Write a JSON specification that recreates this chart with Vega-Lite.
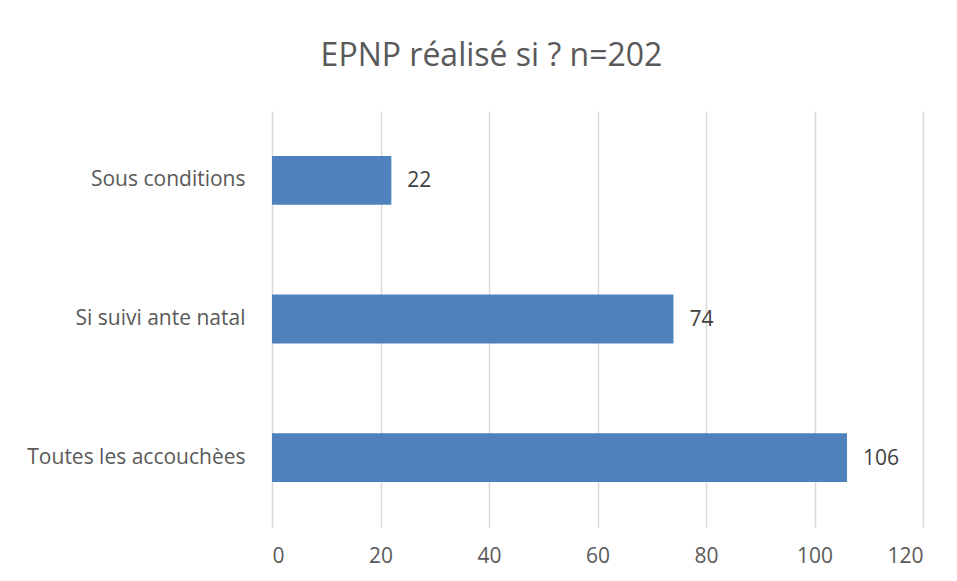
{
  "$schema": "https://vega.github.io/schema/vega-lite/v6.json",
  "width": 651,
  "height": 416,
  "autosize": {"type": "none"},
  "padding": {"left": 272, "top": 111, "right": 34, "bottom": 54},
  "background": "white",
  "title": {
    "text": "EPNP réalisé si ? n=202",
    "font": "Open Sans",
    "fontSize": 32,
    "fontWeight": "normal",
    "color": "#595959",
    "anchor": "middle",
    "frame": "group",
    "dx": -106,
    "offset": 38
  },
  "data": {
    "values": [
      {"cat": "Sous conditions", "n": 22},
      {"cat": "Si suivi ante natal", "n": 74},
      {"cat": "Toutes les accouchèes", "n": 106}
    ]
  },
  "encoding": {
    "y": {
      "field": "cat",
      "type": "nominal",
      "sort": null,
      "title": null,
      "scale": {"paddingInner": 0.647, "paddingOuter": 0.324},
      "axis": {
        "ticks": false,
        "domain": false,
        "labelPadding": 27,
        "labelFont": "Open Sans",
        "labelFontSize": 21,
        "labelColor": "#595959",
        "labelLimit": 400
      }
    },
    "x": {
      "field": "n",
      "type": "quantitative",
      "title": null,
      "scale": {"domain": [0, 120], "nice": false},
      "axis": {
        "values": [0, 20, 40, 60, 80, 100, 120],
        "ticks": false,
        "domain": false,
        "grid": true,
        "gridColor": "#d9d9d9",
        "gridWidth": 1.5,
        "labelPadding": 18,
        "labelFont": "Open Sans",
        "labelFontSize": 21,
        "labelColor": "#595959"
      }
    }
  },
  "layer": [
    {"mark": {"type": "bar", "color": "#4f81bd"}},
    {
      "mark": {"type": "text", "align": "left", "baseline": "middle", "dx": 16, "dy": 1, "font": "Open Sans", "fontSize": 21, "color": "#404040"},
      "encoding": {"text": {"field": "n", "type": "quantitative"}}
    }
  ],
  "config": {"view": {"stroke": null}}
}
